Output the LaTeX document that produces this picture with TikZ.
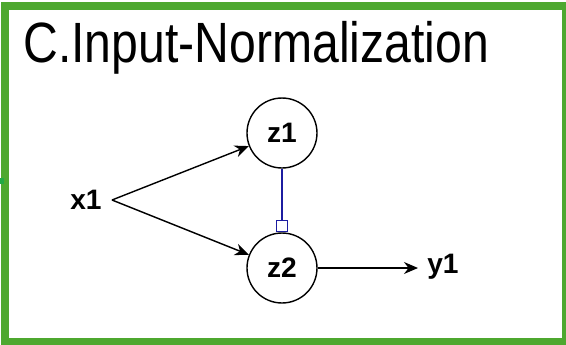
\documentclass[tikz,border=0pt]{standalone}
\usepackage{fontspec}
\setmainfont{Liberation Sans}
\usetikzlibrary{arrows.meta,positioning}
\definecolor{rahmen}{HTML}{4EA82F}
\definecolor{punkt}{HTML}{22AA44}
\definecolor{hemm}{HTML}{1C1CA0}
\tikzset{
  neuron/.style={circle,draw=black,line width=0.8pt,minimum size=1.4cm,inner sep=0pt,font=\bfseries\fontsize{16}{18}\selectfont},
  lab/.style={font=\bfseries\fontsize{16}{18}\selectfont},
  pfeil/.style={-{Stealth[length=2.8mm,width=2.4mm]},line width=0.8pt},
  hemmlink/.style={hemm,line width=0.8pt},
  hemmbox/.style={draw=hemm,fill=white,line width=0.8pt,minimum size=0.22cm,inner sep=0pt},
}

\begin{document}
\begin{tikzpicture}[x=0.02cm,y=-0.02cm]
  \useasboundingbox (0,0) rectangle (566,345);
  \draw[rahmen,line width=0.16cm] (5,6) rectangle (566,341.5);
  \fill[punkt] (0,178) rectangle (4,184);
  \node[anchor=base west,font=\fontsize{27.4}{32}\selectfont,inner sep=0pt] (titel) at (23,62) {\scalebox{1}[1.18]{C.Input-Normalization}};
  \node[neuron] (z1) at (282,133) {z1};
  \node[neuron] (z2) at (282,268) {z2};
  \node[lab] (x1) at (86,200) {x1};
  \node[lab] (y1) at (443,267) {y1};
  \coordinate (xa) at (112,200);
  \coordinate (ya) at (418,268);
  \node[hemmbox,anchor=south] (sq) at (z2.north) {};
  \draw[pfeil] (xa) -- (z1);
  \draw[pfeil] (xa) -- (z2);
  \draw[pfeil] (z2) -- (ya);
  \draw[hemmlink] (z1) -- (sq);
\end{tikzpicture}
\end{document}
